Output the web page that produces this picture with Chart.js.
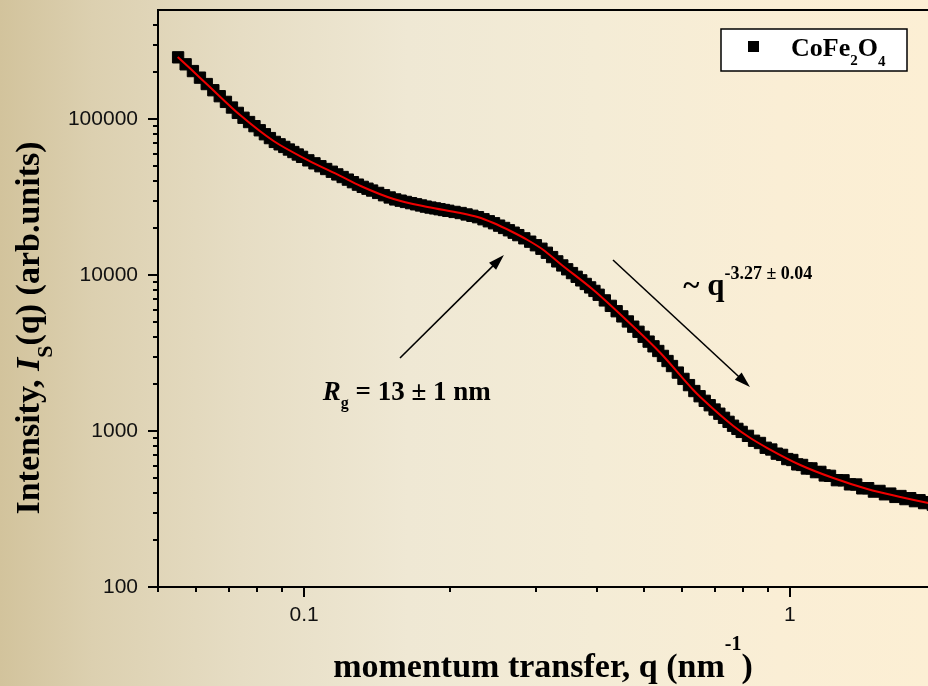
<!DOCTYPE html>
<html>
<head>
<meta charset="utf-8">
<script src="https://cdn.jsdelivr.net/npm/chart.js@4/dist/chart.umd.min.js"></script>
<style>
  html, body { margin: 0; padding: 0; width: 928px; height: 686px; overflow: hidden; }
  body {
    background: linear-gradient(to right, #d2c39c 0%, #dcd0b0 10%, #e6ddc4 26%, #efe8d4 44%, #f4ecd6 64%, #faeed5 84%, #fcefd4 100%);
  }
  #wrap { position: absolute; left: 0; top: 0; width: 946px; height: 686px; }
</style>
</head>
<body>
<div id="wrap"><canvas id="saxs" width="946" height="686"></canvas></div>
<script>
// Measured SAXS intensity of CoFe2O4 nanoparticles: q in nm^-1, I in arb. units
const qData = [
  0.055, 0.057, 0.059, 0.061, 0.063, 0.065, 0.067, 0.069, 0.071, 0.073, 0.075, 0.077, 0.079,
  0.081, 0.083, 0.085, 0.087, 0.089, 0.091, 0.093, 0.095, 0.097, 0.099,
  0.102, 0.105, 0.108, 0.111, 0.114, 0.117, 0.120, 0.123, 0.126, 0.129, 0.132, 0.135, 0.138,
  0.142, 0.146, 0.150, 0.154, 0.158, 0.162, 0.166, 0.170, 0.174, 0.178, 0.182, 0.186, 0.190, 0.194, 0.198,
  0.204, 0.210, 0.216, 0.222, 0.228, 0.234, 0.240, 0.246, 0.252, 0.258, 0.264, 0.270, 0.276,
  0.284, 0.292, 0.300, 0.308, 0.316, 0.324, 0.332, 0.340, 0.348, 0.356, 0.364, 0.372, 0.380, 0.388, 0.396, 0.404,
  0.416, 0.428, 0.440, 0.452, 0.464, 0.476, 0.488, 0.500, 0.512, 0.524, 0.536, 0.548, 0.560,
  0.572, 0.588, 0.604, 0.620, 0.636, 0.652, 0.668, 0.684, 0.700, 0.716, 0.732, 0.748, 0.764, 0.780, 0.796,
  0.820, 0.844, 0.868, 0.892, 0.916, 0.940, 0.964, 0.988, 1.012, 1.036, 1.060, 1.084, 1.108, 1.132, 1.156, 1.180,
  1.21, 1.25, 1.29, 1.33, 1.37, 1.41, 1.45, 1.49, 1.53, 1.57, 1.61, 1.65, 1.69, 1.73, 1.77, 1.81, 1.85, 1.89, 1.93, 1.97
];
const iData = [
  248600, 224300, 203000, 184200, 167600, 153000, 140100, 128800, 118500, 109500, 101900, 95660, 90000,
  84720, 79890, 75460, 71360, 68840, 66240, 63750, 61440, 59240, 57210,
  54340, 52000, 49840, 47820, 45930, 44150, 42480, 40890, 39370, 37970, 36740, 35750, 34790,
  33600, 32470, 31420, 30530, 29970, 29410, 28890, 28400, 27920, 27450, 27070, 26740, 26420, 26110, 25800,
  25380, 24970, 24450, 23970, 23480, 22780, 22110, 21470, 20730, 20030, 19360, 18680, 18020,
  17190, 16360, 15520, 14740, 13890, 13030, 12230, 11520, 10880, 10290, 9743, 9241, 8766, 8330, 7909, 7472,
  6875, 6343, 5860, 5431, 5040, 4665, 4327, 4020, 3742, 3491, 3258, 3030, 2810,
  2609, 2369, 2158, 1969, 1804, 1671, 1561, 1463, 1373, 1291, 1215, 1145, 1081, 1032, 987,
  931, 866, 838, 781, 761, 716, 703, 661, 652, 611, 606, 575, 576, 545, 547, 519,
  516, 484, 483, 455, 454, 429, 430, 409, 413, 393, 397, 378, 383, 366, 371, 355, 360, 345, 350, 337
];

// Fitted model curve
const fitQ = [0.0549, 0.0584, 0.0633, 0.0740, 0.0865, 0.1017, 0.1189, 0.1307, 0.1528, 0.1795, 0.2099,
  0.2275, 0.2454, 0.2660, 0.2884, 0.3110, 0.3371, 0.3942, 0.4629, 0.5415, 0.6329, 0.6542, 0.7652,
  0.8293, 0.8989, 1.051, 1.229, 1.444, 1.689, 1.928, 2.139];
const fitI = [249700, 209200, 165200, 105200, 72280, 54600, 43110, 37200, 30700, 27290, 24970,
  23540, 21540, 19150, 16770, 14470, 11770, 8013, 5072, 3162, 1831, 1652, 1077,
  901.8, 778.0, 605.6, 499.5, 424.9, 377.5, 345.5, 325.7];

// Axis ticks
const xLabelTicks = [0.1, 1];
const xMinorTicks = [0.05, 0.06, 0.07, 0.08, 0.09, 0.2, 0.3, 0.4, 0.5, 0.6, 0.7, 0.8, 0.9, 2];
const yLabelTicks = [100, 1000, 10000, 100000];
const yMinorTicks = [200, 300, 400, 500, 600, 700, 800, 900,
  2000, 3000, 4000, 5000, 6000, 7000, 8000, 9000,
  20000, 30000, 40000, 50000, 60000, 70000, 80000, 90000,
  200000, 300000, 400000];

// Annotation anchors in data coordinates [q, I]
const guinierArrow = [[0.1575, 2937], [0.2578, 13430]];
const porodArrow = [[0.4324, 12480], [0.8279, 1915]];
const rgLabelAt = [0.1092, 1580];
const slopeLabelAt = [0.6036, 7443];

const SERIF = '"Liberation Serif", "Times New Roman", serif';
const SANS = '"Liberation Sans", Arial, sans-serif';

function drawRuns(ctx, x, y, runs, align) {
  let total = 0;
  runs.forEach(r => { ctx.font = r.f; r.w = ctx.measureText(r.t).width; total += r.w; });
  let cx = align === 'center' ? x - total / 2 : x;
  runs.forEach(r => {
    ctx.font = r.f;
    ctx.fillText(r.t, cx, y + (r.dy || 0));
    cx += r.w;
  });
}

function arrow(ctx, x0, y0, x1, y1) {
  const ang = Math.atan2(y1 - y0, x1 - x0);
  const len = 16, hw = 5;
  const bx = x1 - len * Math.cos(ang), by = y1 - len * Math.sin(ang);
  ctx.beginPath();
  ctx.moveTo(x0, y0);
  ctx.lineTo(bx + 2 * Math.cos(ang), by + 2 * Math.sin(ang));
  ctx.stroke();
  ctx.beginPath();
  ctx.moveTo(x1, y1);
  ctx.lineTo(bx + hw * Math.sin(ang), by - hw * Math.cos(ang));
  ctx.lineTo(bx - hw * Math.sin(ang), by + hw * Math.cos(ang));
  ctx.closePath();
  ctx.fill();
}

const decor = {
  id: 'decor',
  afterDraw(chart) {
    const { ctx, chartArea: a, scales: { x, y } } = chart;
    ctx.save();

    // frame and tick marks
    ctx.strokeStyle = '#000';
    ctx.lineWidth = 2;
    ctx.beginPath();
    ctx.moveTo(a.left - 1, a.top);
    ctx.lineTo(a.right, a.top);
    ctx.lineTo(a.right, a.bottom);
    xLabelTicks.forEach(v => { const p = Math.round(x.getPixelForValue(v)); ctx.moveTo(p, a.bottom); ctx.lineTo(p, a.bottom + 10); });
    xMinorTicks.forEach(v => { const p = Math.round(x.getPixelForValue(v)); ctx.moveTo(p, a.bottom); ctx.lineTo(p, a.bottom + 5); });
    yLabelTicks.forEach(v => { const p = Math.round(y.getPixelForValue(v)); ctx.moveTo(a.left, p); ctx.lineTo(a.left - 10, p); });
    yMinorTicks.forEach(v => { const p = Math.round(y.getPixelForValue(v)); ctx.moveTo(a.left, p); ctx.lineTo(a.left - 5, p); });
    ctx.stroke();

    ctx.fillStyle = '#000';
    ctx.textBaseline = 'alphabetic';
    ctx.textAlign = 'left';

    // axis titles
    drawRuns(ctx, 543, 677, [
      { t: 'momentum transfer, q (nm', f: 'bold 34px ' + SERIF },
      { t: '-1', f: 'bold 20px ' + SERIF, dy: -27 },
      { t: ')', f: 'bold 34px ' + SERIF }
    ], 'center');

    ctx.save();
    ctx.translate(39, 328);
    ctx.rotate(-Math.PI / 2);
    drawRuns(ctx, 0, 0, [
      { t: 'Intensity, ', f: 'bold 34px ' + SERIF },
      { t: 'I', f: 'italic bold 34px ' + SERIF },
      { t: 'S', f: 'bold 22px ' + SERIF, dy: 13 },
      { t: '(q) (arb.units)', f: 'bold 34px ' + SERIF }
    ], 'center');
    ctx.restore();

    // legend
    ctx.fillStyle = '#fff';
    ctx.fillRect(721, 29, 186, 42);
    ctx.lineWidth = 1.5;
    ctx.strokeRect(721, 29, 186, 42);
    ctx.fillStyle = '#000';
    ctx.fillRect(748, 41, 11, 11);
    drawRuns(ctx, 791, 56, [
      { t: 'CoFe', f: 'bold 26px ' + SERIF },
      { t: '2', f: 'bold 15px ' + SERIF, dy: 9 },
      { t: 'O', f: 'bold 26px ' + SERIF },
      { t: '4', f: 'bold 15px ' + SERIF, dy: 10 }
    ]);

    // arrows
    ctx.lineWidth = 1.6;
    const px = p => [x.getPixelForValue(p[0]), y.getPixelForValue(p[1])];
    let s = px(guinierArrow[0]), e = px(guinierArrow[1]);
    arrow(ctx, s[0], s[1], e[0], e[1]);
    s = px(porodArrow[0]); e = px(porodArrow[1]);
    arrow(ctx, s[0], s[1], e[0], e[1]);

    // annotations
    const r = px(rgLabelAt);
    drawRuns(ctx, r[0], r[1], [
      { t: 'R', f: 'italic bold 27px ' + SERIF },
      { t: 'g', f: 'bold 16px ' + SERIF, dy: 8 },
      { t: ' = 13 \u00b1 1 nm', f: 'bold 27px ' + SERIF }
    ]);
    const q = px(slopeLabelAt);
    drawRuns(ctx, q[0], q[1], [
      { t: '~ q', f: 'bold 31px ' + SERIF },
      { t: '-3.27 \u00b1 0.04', f: 'bold 18px ' + SERIF, dy: -16 }
    ]);

    ctx.restore();
  }
};

new Chart(document.getElementById('saxs'), {
  type: 'scatter',
  data: {
    datasets: [
      {
        label: 'CoFe2O4',
        data: qData.map((v, i) => ({ x: v, y: iData[i] })),
        pointStyle: 'rect',
        pointRadius: 8,
        pointHoverRadius: 8,
        backgroundColor: '#000',
        borderColor: '#000',
        borderWidth: 1,
        order: 2
      },
      {
        label: 'fit',
        data: fitQ.map((v, i) => ({ x: v, y: fitI[i] })),
        showLine: true,
        pointRadius: 0,
        borderColor: '#ee0000',
        borderWidth: 2,
        cubicInterpolationMode: 'monotone',
        fill: false,
        order: 1
      }
    ]
  },
  options: {
    responsive: false,
    animation: false,
    devicePixelRatio: 1,
    events: [],
    layout: { padding: { left: 0, top: 10, right: 10, bottom: 0 } },
    plugins: { legend: { display: false }, tooltip: { enabled: false } },
    scales: {
      x: {
        type: 'logarithmic',
        position: 'bottom',
        min: 0.05,
        max: 2,
        grid: { display: false, drawTicks: false },
        border: { display: true, color: '#000', width: 2 },
        afterBuildTicks: s => { s.ticks = xLabelTicks.map(v => ({ value: v })); },
        afterFit: s => { s.height = 99; s.paddingLeft = 0; s.paddingRight = 0; },
        ticks: {
          autoSkip: false, maxRotation: 0, padding: 16, color: '#111',
          font: { family: SANS, size: 21 },
          callback: v => String(v)
        }
      },
      y: {
        type: 'logarithmic',
        position: 'left',
        min: 100,
        max: 500000,
        grid: { display: false, drawTicks: false },
        border: { display: true, color: '#000', width: 2 },
        afterBuildTicks: s => { s.ticks = yLabelTicks.map(v => ({ value: v })); },
        afterFit: s => { s.width = 158; s.paddingTop = 0; s.paddingBottom = 0; },
        ticks: {
          autoSkip: false, padding: 20, color: '#111',
          font: { family: SANS, size: 21 },
          callback: v => String(v)
        }
      }
    }
  },
  plugins: [decor]
});
</script>
</body>
</html>
